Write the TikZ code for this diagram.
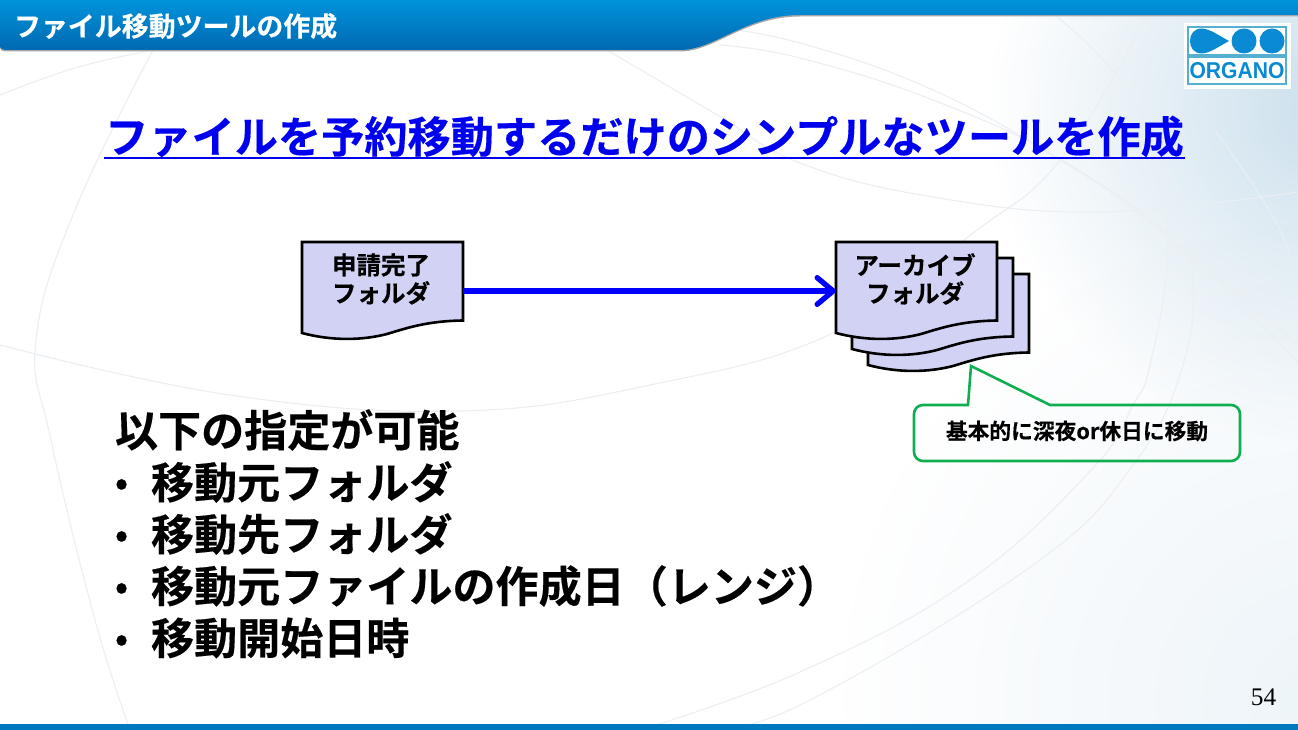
\documentclass[tikz,border=0pt]{standalone}
\usepackage{fontspec}
\usetikzlibrary{arrows.meta,calc,fadings}
\setmainfont{Liberation Serif}
\newfontfamily\jpf{Noto Sans CJK JP}[BoldFont={Noto Sans CJK JP Bold},BoldFeatures={FakeBold=0.35}]
\newfontfamily\logofont{Liberation Sans}
\definecolor{hdrtop}{HTML}{0093DA}
\definecolor{hdrbot}{HTML}{0069B2}
\definecolor{bandc}{HTML}{0078C0}
\definecolor{linkc}{HTML}{0000F0}
\definecolor{docfill}{HTML}{D2D2F4}
\definecolor{callc}{HTML}{0FAE50}
\definecolor{logoc}{HTML}{0A8AD2}
\definecolor{logob}{HTML}{55AFD0}
\definecolor{arcc}{HTML}{EAEFF3}
\definecolor{glowc}{HTML}{A8CAE0}
\tikzfading[name=glowtop, inner color=transparent!42, outer color=transparent!100]
\tikzfading[name=glowbot, inner color=transparent!80, outer color=transparent!100]
\tikzset{
  jp/.style={font=\jpf\bfseries, inner sep=0pt, outer sep=0pt},
  docshape/.style={fill=docfill, draw=black, line width=1.95pt, line join=miter},
  docbox/.style={minimum width=121pt, minimum height=90pt, inner sep=0pt, outer sep=0pt},
  doclabel/.style={jp, align=center, font=\jpf\bfseries\fontsize{18.4}{21}\selectfont},
  listtext/.style={jp, anchor=west, font=\jpf\bfseries\fontsize{32.3}{36}\selectfont},
  listdot/.style={jp, anchor=west, font=\jpf\bfseries\fontsize{26}{30}\selectfont},
  arc/.style={draw=arcc, line width=0.8pt, smooth, tension=0.7},
}
\newcommand{\docpath}[2]{%
  \draw[docshape,shift={(#1,#2)}] (0,0) -- (161,0) -- (161,78.5)
    .. controls (125,79) and (105,86) .. (85,92)
    .. controls (60,98.5) and (30,99) .. (0,91) -- cycle;}
\begin{document}
\begin{tikzpicture}[x=0.75pt,y=-0.75pt]
\useasboundingbox (0,0) rectangle (1298,730);
% background
\fill[white] (0,0) rectangle (1298,730);
\begin{scope}
  \clip (0,0) rectangle (1298,730);
  \fill[glowc,path fading=glowtop] (1320,110) circle (330);
  \fill[glowc,path fading=glowbot] (1320,700) circle (480);
  \draw[arc] plot coordinates {(0,345) (230,395) (460,411) (650,385) (833,333) (973,233) (1060,160) (1147,17)};
  \draw[arc] plot coordinates {(0,95) (75,68) (153,50)};
  \draw[arc] plot coordinates {(153,50) (75,210) (36,340) (51,440) (95,620) (130,730)};
  \draw[arc] plot coordinates {(607,50) (714,113) (800,163) (933,197) (1100,212) (1298,192)};
  \draw[arc] plot coordinates {(700,25) (800,43) (933,90) (1060,160) (1167,233) (1298,363)};
  \draw[arc] plot coordinates {(720,45) (800,58) (933,100) (1067,163) (1193,257) (1298,345)};
  \draw[arc] plot coordinates {(1057,17) (1117,77) (1167,173) (1192,267) (1183,365) (1133,465) (1033,565) (800,705) (700,730)};
  \draw[arc] plot coordinates {(1153,157) (1168,250) (1150,365) (1133,405) (1093,468) (967,582) (800,672) (640,730)};
  \draw[arc] plot coordinates {(1215,130) (1280,230) (1298,300)};
\end{scope}
% header
\fill[black!35,shift={(0,1.5)}] (0,0) -- (0,46) .. controls (0,49) and (3,50) .. (8,50) -- (680,50) .. controls (715,50) and (745,15) .. (800,15) -- (1298,15) -- (1298,0) -- cycle;
\shade[top color=hdrtop,bottom color=hdrbot] (0,0) -- (0,46) .. controls (0,49) and (3,50) .. (8,50) -- (680,50) .. controls (715,50) and (745,15) .. (800,15) -- (1298,15) -- (1298,0) -- cycle;
\node[jp,anchor=west,text=white,font=\jpf\bfseries\fontsize{20.2}{24}\selectfont] (hdr) at (14,26) {ファイル移動ツールの作成};
% bottom band
\fill[bandc] (0,724) rectangle (1298,730);
% logo
\fill[white] (1184,23) rectangle (1291,89);
\draw[logob,line width=0.8pt] (1188,27) rectangle (1286,55);
\draw[logob,line width=0.8pt] (1188,57) rectangle (1286,84);
\fill[logoc] (1229,41) .. controls (1218,47) and (1210,53) .. (1202,53.5) .. controls (1194,53.5) and (1190,48) .. (1190,41) .. controls (1190,34) and (1194,28.5) .. (1202,28.5) .. controls (1210,29) and (1218,35) .. (1229,41) -- cycle;
\fill[logoc] (1244,41) circle (12.5);
\fill[logoc] (1272,41) circle (12.5);
\node[inner sep=0pt,text=logoc,xscale=0.92,font=\logofont\bfseries\fontsize{17.2}{19}\selectfont] (logotext) at (1237,70.5) {ORGANO};
% slide title
\node[jp,text=linkc,font=\jpf\bfseries\fontsize{32.4}{38}\selectfont] (title) at (644.5,136.5) {ファイルを予約移動するだけのシンプルなツールを作成};
\coordinate (ulL) at (104,158);
\coordinate (ulR) at (1185,158);
\draw[linkc,line width=1.7pt] (ulL) -- (ulR);
% documents
\docpath{868}{274}
\docpath{852}{258}
\docpath{836}{242}
\docpath{302}{242}
\node[docbox] (src) at (382.5,291) {};
\node[docbox] (dst) at (916.5,291) {};
\node[doclabel] (srclab) at (381,279) {申請完了\\フォルダ};
\node[doclabel] (dstlab) at (915,279) {アーカイブ\\フォルダ};
\draw[-{Straight Barb[length=12pt,width=20pt,round]},blue,line width=4pt] (src.east) -- (dst.west);
% callout
\draw[callc,line width=1.95pt] (923,405) -- (968,405) -- (971,366) -- (1050,405) -- (1231,405)
  .. controls (1236,405) and (1240,409) .. (1240,414) -- (1240,452)
  .. controls (1240,457) and (1236,461) .. (1231,461) -- (923,461)
  .. controls (918,461) and (914,457) .. (914,452) -- (914,414)
  .. controls (914,409) and (918,405) .. (923,405) -- cycle;
\node[jp,font=\jpf\bfseries\fontsize{16.3}{20}\selectfont] (calltext) at (1077,431) {基本的に深夜or休日に移動};
% list
\node[listtext] (l0) at (115,430) {以下の指定が可能};
\node[listdot] (b1) at (115,487) {•};
\node[listdot] (b2) at (115,539) {•};
\node[listdot] (b3) at (115,591) {•};
\node[listdot] (b4) at (115,643) {•};
\node[listtext] (l1) at (151,482) {移動元フォルダ};
\node[listtext] (l2) at (151,534) {移動先フォルダ};
\node[listtext] (l3) at (151,586) {移動元ファイルの作成日（レンジ）};
\node[listtext] (l4) at (151,638) {移動開始日時};
% page number
\node[inner sep=0pt,font=\fontsize{19}{22}\selectfont] (page) at (1263.5,697) {54};
\end{tikzpicture}
\end{document}
